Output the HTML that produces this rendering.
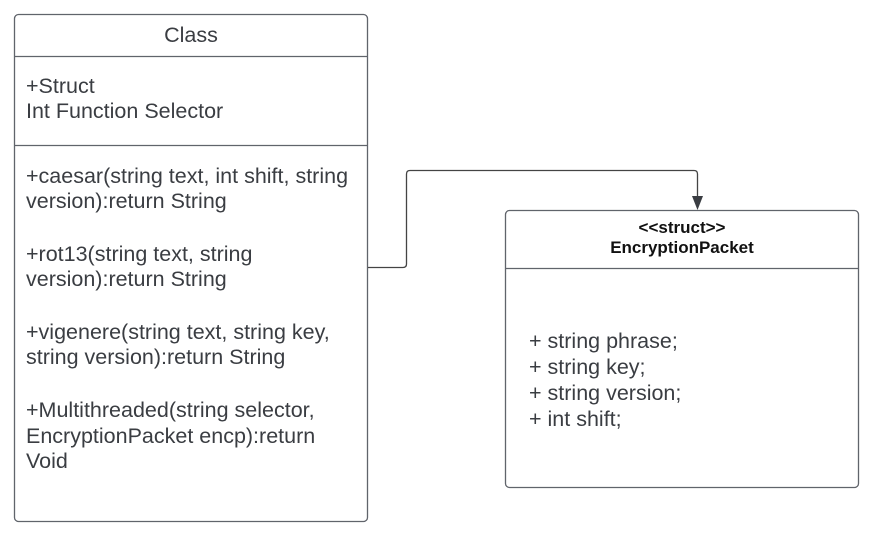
<!DOCTYPE html>
<html><head><style>
body{margin:0;background:#fff;width:884px;height:538px;overflow:hidden}
svg text{font-family:"Liberation Sans",sans-serif;fill:#3a3d42}
</style></head><body>
<svg width="884" height="538" xmlns="http://www.w3.org/2000/svg">
<g fill="none" stroke="#60646b" stroke-width="1.3">
<rect x="14.5" y="14.5" width="353" height="507" rx="4"/>
<line x1="14" y1="56.5" x2="368" y2="56.5"/>
<line x1="14" y1="145.5" x2="368" y2="145.5"/>
<rect x="505.5" y="210.5" width="353" height="277" rx="4"/>
<line x1="505" y1="268.5" x2="858" y2="268.5"/>
<path d="M368 267.5 H403 Q406.5 267.5 406.5 264 V174 Q406.5 170.5 410 170.5 H694 Q697.5 170.5 697.5 174 V198" stroke="#444"/>
</g>
<polygon points="692,196 703,196 697.5,210" fill="#3a3d42"/>
<g font-size="21.5">
<text x="191" y="42" text-anchor="middle">Class</text>
<text x="26" y="93">+Struct</text>
<text x="26" y="118">Int Function Selector</text>
<text x="26" y="183">+caesar(string text, int shift, string</text>
<text x="26" y="208">version):return String</text>
<text x="26" y="261">+rot13(string text, string</text>
<text x="26" y="286">version):return String</text>
<text x="26" y="339">+vigenere(string text, string key,</text>
<text x="26" y="364">string version):return String</text>
<text x="26" y="417">+Multithreaded(string selector,</text>
<text x="26" y="443">EncryptionPacket encp):return</text>
<text x="26" y="468">Void</text>
</g>
<g font-size="17" font-weight="bold" text-anchor="middle">
<text x="682" y="233" style="fill:#111">&lt;&lt;struct&gt;&gt;</text>
<text x="682" y="253" style="fill:#111">EncryptionPacket</text>
</g>
<g font-size="21.5">
<text x="529" y="348">+ string phrase;</text>
<text x="529" y="374">+ string key;</text>
<text x="529" y="400">+ string version;</text>
<text x="529" y="426">+ int shift;</text>
</g>
</svg>
</body></html>
